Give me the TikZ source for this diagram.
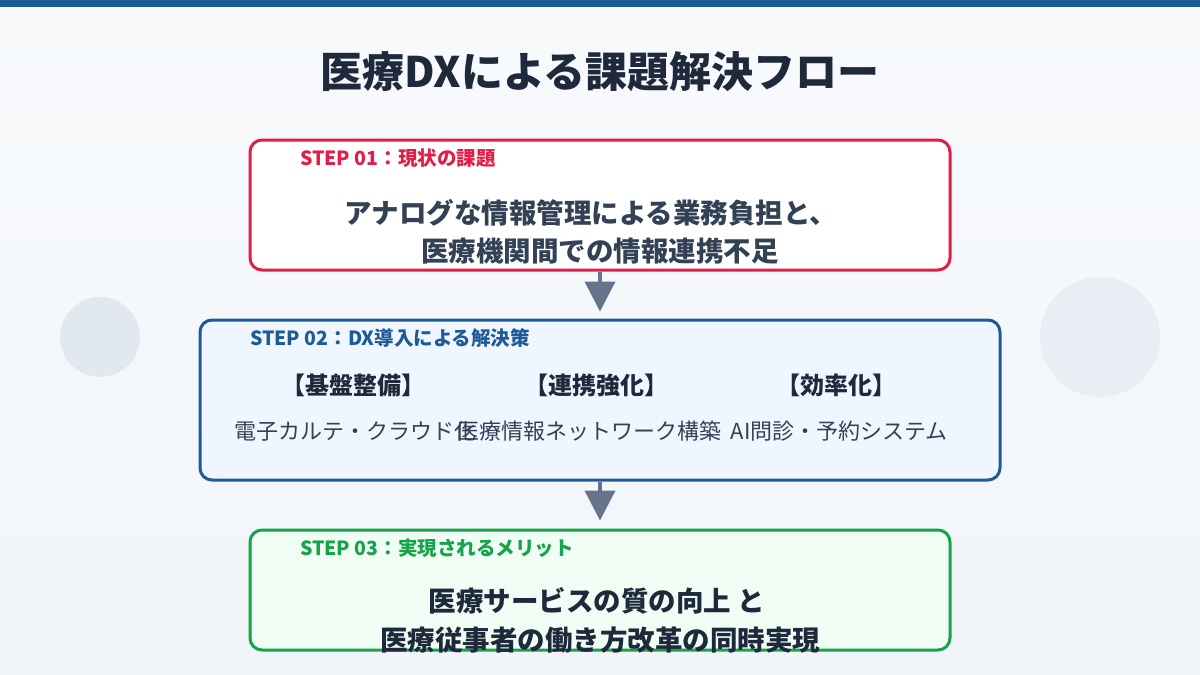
\documentclass[tikz,border=0pt]{standalone}
\usepackage{fontspec}
\setmainfont{Noto Sans CJK JP}
\usetikzlibrary{arrows.meta}
\definecolor{bgtop}{HTML}{F8FAFC}
\definecolor{bgbot}{HTML}{F1F5F9}
\definecolor{topbar}{HTML}{1E5A96}
\definecolor{titlecol}{HTML}{1E293B}
\definecolor{bodycol}{HTML}{334155}
\definecolor{redc}{HTML}{E11D48}
\definecolor{bluec}{HTML}{1E5A96}
\definecolor{greenc}{HTML}{16A34A}
\definecolor{bluefill}{HTML}{EFF6FF}
\definecolor{greenfill}{HTML}{F0FDF4}
\definecolor{arrowc}{HTML}{64748B}
\definecolor{circA}{HTML}{E2E8F0}
\definecolor{circB}{HTML}{E9EEF5}
\tikzset{
  stepbox/.style={draw, line width=3pt, rounded corners=12pt, inner sep=0pt},
  steplabel/.style={font=\bfseries\fontsize{19.5}{21}\selectfont, anchor=west, inner sep=0pt},
  mainline/.style={font=\bfseries\fontsize{27.5}{30}\selectfont, inner sep=0pt},
  headtxt/.style={font=\bfseries\fontsize{24}{27}\selectfont, text=titlecol, inner sep=0pt},
  desctxt/.style={font=\fontsize{22}{25}\selectfont, text=bodycol, inner sep=0pt},
  flowarrow/.style={draw=arrowc, line width=4pt, -{Triangle[width=30pt,length=30pt]}}
}
\begin{document}
\begin{tikzpicture}[x=1pt,y=-1pt]
\useasboundingbox (0,0) rectangle (1200,675);
\shade[top color=bgtop, bottom color=bgbot] (0,0) rectangle (1200,675);
\fill[topbar] (0,0) rectangle (1200,7);
\fill[circA] (100,337) circle (40);
\fill[circB] (1100,337) circle (60);

\node[font=\bfseries\fontsize{42}{46}\selectfont, text=titlecol] (title) at (600,72) {医療DXによる課題解決フロー};

% Step 1
\node[stepbox, draw=redc, fill=white, minimum width=700pt, minimum height=130pt] (b1) at (600,205) {};
\node[steplabel, text=redc] (l1) at (300,158) {STEP 01：現状の課題};
\node[mainline, text=bodycol] (t1a) at (591,213) {アナログな情報管理による業務負担と、};
\node[mainline, text=bodycol] (t1b) at (600,251) {医療機関間での情報連携不足};

% Step 2
\node[stepbox, draw=bluec, fill=bluefill, minimum width=800pt, minimum height=160pt] (b2) at (600,400) {};
\node[steplabel, text=bluec] (l2) at (250,338) {STEP 02：DX導入による解決策};
\node[headtxt] (h1) at (353,385) {【基盤整備】};
\node[headtxt] (h2) at (596,385) {【連携強化】};
\node[headtxt] (h3) at (836,385) {【効率化】};
\node[desctxt, anchor=west] (d1) at (234,431) {電子カルテ・クラウド化};
\node[desctxt] (d2) at (589,431) {医療情報ネットワーク構築};
\node[desctxt, anchor=east] (d3) at (948,431) {AI問診・予約システム};

% Step 3
\node[stepbox, draw=greenc, fill=greenfill, minimum width=700pt, minimum height=120pt] (b3) at (600,590) {};
\node[steplabel, text=greenc] (l3) at (300,548) {STEP 03：実現されるメリット};
\node[mainline, text=titlecol] (t3a) at (597,601) {医療サービスの質の向上 と};
\node[mainline, text=titlecol] (t3b) at (600,640) {医療従事者の働き方改革の同時実現};

% arrows
\draw[flowarrow, shorten >=7pt] (b1.south) -- (b2.north);
\draw[flowarrow, shorten >=8pt] (b2.south) -- (b3.north);
\end{tikzpicture}
\end{document}
